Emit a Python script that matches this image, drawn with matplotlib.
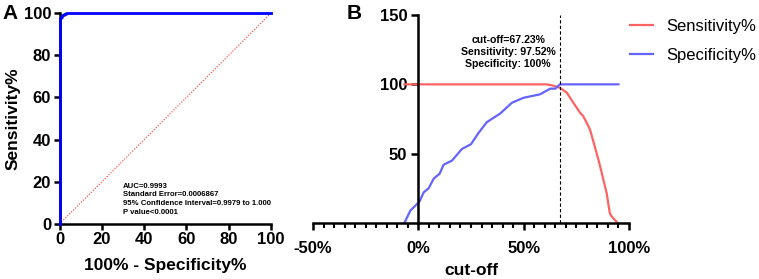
import matplotlib
matplotlib.use("Agg")
import matplotlib.pyplot as plt
from matplotlib.ticker import MultipleLocator

plt.rcParams['font.family'] = ['Liberation Sans', 'DejaVu Sans']

# ROC curve (panel A)
roc_fpr = [0, 0, 0.5, 0.5, 1, 1, 2, 2, 3, 3, 100]
roc_tpr = [0, 97.5, 97.5, 98, 98, 99, 99, 99.5, 99.5, 100, 100]
roc_stats = ["AUC=0.9993", "Standard Error=0.0006867",
             "95% Confidence Interval=0.9979 to 1.000", "P value<0.0001"]

# Sensitivity / specificity vs cut-off (panel B)
sens_x = [-6.6, 61, 63.4, 67.23, 70.5, 73.6, 76.8, 78.3, 81.5, 85.5, 86.3, 89.4, 90.9, 91.8, 94.6]
sens_y = [100, 100, 99.3, 97.52, 94, 86.7, 79.5, 77, 67.4, 45.6, 40.8, 21.5, 7, 4.6, 0]
spec_x = [-6.6, -3.8, 0.6, 2.5, 4.9, 7.3, 10.1, 12, 16, 20.7, 25, 28.6, 32.5, 38.9, 44.4,
          49.9, 57.8, 62.6, 65, 67.23, 95]
spec_y = [0, 8.9, 15.5, 22, 25, 32, 35.5, 42, 45, 53.4, 56.8, 65, 72.7, 79, 86.7,
          90.3, 92.8, 96.9, 96.9, 100, 100]
cutoff = 67.23
cut_text = "cut-off=67.23%\nSensitivity: 97.52%\nSpecificity: 100%"

fig = plt.figure(figsize=(7.59, 2.79), dpi=100)

# ---- panel A
axA = fig.add_axes([0.0784, 0.197, 0.2786, 0.756])
axA.plot([0, 100], [0, 100], color='#ff3030', lw=0.8, ls=(0, (1, 1.5)))
axA.plot(roc_fpr, roc_tpr, color='#0000ff', lw=2, clip_on=False, zorder=5)
axA.set_xlim(0, 100)
axA.set_ylim(0, 100)
axA.set_xticks(range(0, 101, 20))
axA.set_yticks(range(0, 101, 20))
for s in ['top', 'right']:
    axA.spines[s].set_visible(False)
for s in ['left', 'bottom']:
    axA.spines[s].set_linewidth(1.8)
axA.tick_params(width=1.8, length=4, labelsize=12, pad=2)
for lab in axA.get_xticklabels() + axA.get_yticklabels():
    lab.set_fontweight('bold')
axA.set_xlabel("100% - Specificity%", fontsize=12.5, fontweight='bold', labelpad=8)
axA.set_ylabel("Sensitivity%", fontsize=12.5, fontweight='bold', labelpad=2)
for i, t in enumerate(roc_stats):
    axA.text(30, 18 - i * 4.1, t, fontsize=5.6, fontweight='bold', va='center')
fig.text(0.003, 0.985, "A", fontsize=15, fontweight='bold', va='top')

# ---- panel B
axB = fig.add_axes([0.4124, 0.201, 0.4163, 0.745])
lS, = axB.plot(sens_x, sens_y, color='#ff6262', lw=1.6, label='Sensitivity%')
lP, = axB.plot(spec_x, spec_y, color='#6464ff', lw=1.6, label='Specificity%')
axB.plot([cutoff, cutoff], [0, 150], color='black', lw=0.8, ls=(0, (3, 2)))
axB.set_xlim(-50, 100)
axB.set_ylim(0, 150)
axB.spines['left'].set_position(('data', 0))
for s in ['top', 'right']:
    axB.spines[s].set_visible(False)
for s in ['left', 'bottom']:
    axB.spines[s].set_linewidth(1.8)
axB.set_xticks([-50, 0, 50, 100])
axB.set_xticklabels(["-50%", "0%", "50%", "100%"])
axB.xaxis.set_minor_locator(MultipleLocator(5))
axB.set_yticks([50, 100, 150])
axB.tick_params(width=1.8, length=5, labelsize=12, pad=3)
axB.tick_params(axis='x', which='minor', width=1.5, length=3.5)
axB.tick_params(axis='x', pad=8)
for lab in axB.get_xticklabels() + axB.get_yticklabels():
    lab.set_fontweight('bold')
axB.set_xlabel("cut-off", fontsize=12.5, fontweight='bold', labelpad=5)
axB.text(42.7, 123, cut_text, fontsize=7.6, fontweight='bold', ha='center', va='center',
         linespacing=1.25)
fig.legend(handles=[lS, lP], loc='upper left', bbox_to_anchor=(630 / 759, 1 - 19 / 279),
           frameon=False, fontsize=12, handlelength=1.35, handletextpad=0.85,
           labelspacing=0.85, borderpad=0, borderaxespad=0)
fig.text(0.457, 0.985, "B", fontsize=15, fontweight='bold', va='top')

fig.savefig("out.png", dpi=100)
